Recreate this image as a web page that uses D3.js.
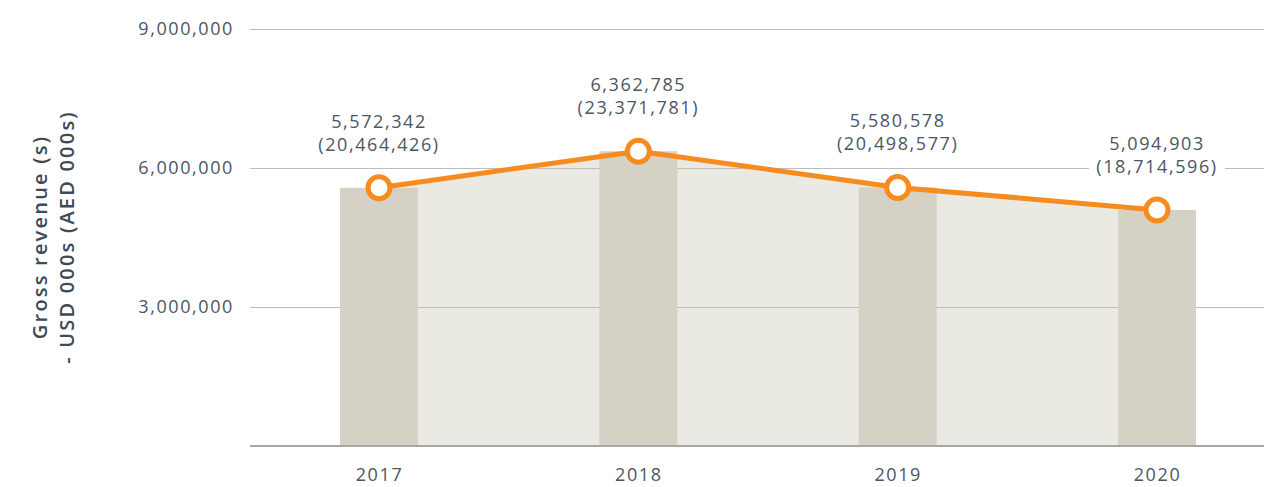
<!DOCTYPE html>
<html>
<head>
<meta charset="utf-8">
<script src="https://cdn.jsdelivr.net/npm/d3@7"></script>
<style>
  body { margin: 0; background: #fff; }
  text { font-family: "Open Sans", sans-serif; }
</style>
</head>
<body>
<div id="container"></div>
<script>
/* DATA */
const years = ["2017", "2018", "2019", "2020"]
const usdValues = [5572342, 6362785, 5580578, 5094903]
const aedValues = [20464426, 23371781, 20498577, 18714596]
const yTicks = [3000000, 6000000, 9000000]
const titleLines = ["Gross revenue (s)", "- USD 000s (AED 000s)"]

/* CONSTANTS */
const width = 1264,
  height = 487,
  margin = { top: 29, bottom: 41, left: 250, right: 0 },
  barWidth = 78,
  textColor = "#4b5663",
  labelFont = "18px",
  spacing = "1.6px"

const data = years.map((y, i) => ({ year: y, usd: usdValues[i], aed: aedValues[i] }))

/* SCALES */
const xScale = d3.scalePoint()
  .domain(years)
  .range([379, 1157])

const yScale = d3.scaleLinear()
  .domain([0, 9000000])
  .range([height - margin.bottom, margin.top])

const fmt = d3.format(",")

/* SVG */
const svg = d3.select("#container")
  .append("svg")
  .attr("width", width)
  .attr("height", height)

// area under the line
const area = d3.area()
  .x(d => xScale(d.year))
  .y0(yScale(0))
  .y1(d => yScale(d.usd))

svg.append("path")
  .datum(data)
  .attr("d", area)
  .attr("fill", "#ebeae2")

// gridlines + tick labels
const yAxis = d3.axisLeft(yScale)
  .tickValues(yTicks)
  .tickFormat(fmt)
  .tickSize(-(width - margin.left))
  .tickPadding(16)

svg.append("g")
  .attr("transform", `translate(${margin.left},0)`)
  .call(yAxis)
  .call(g => g.select(".domain").remove())
  .call(g => g.selectAll(".tick line").attr("stroke", "#bdbdbd").attr("stroke-width", 1.2))
  .call(g => g.selectAll(".tick text")
    .attr("fill", textColor)
    .style("font-size", labelFont)
    .style("letter-spacing", spacing)
    .style("font-family", "'Open Sans', sans-serif"))

// bars
svg.selectAll(".bar")
  .data(data)
  .join("rect")
  .attr("class", "bar")
  .attr("x", d => xScale(d.year) - barWidth / 2)
  .attr("y", d => yScale(d.usd))
  .attr("width", barWidth)
  .attr("height", d => yScale(0) - yScale(d.usd))
  .attr("fill", "#d5d1c5")

// baseline
svg.append("line")
  .attr("x1", margin.left)
  .attr("x2", width)
  .attr("y1", yScale(0))
  .attr("y2", yScale(0))
  .attr("stroke", "#a8a8a8")
  .attr("stroke-width", 2)

// x axis labels
const xAxis = d3.axisBottom(xScale).tickSize(0).tickPadding(22)
svg.append("g")
  .attr("transform", `translate(0,${yScale(0)})`)
  .call(xAxis)
  .call(g => g.select(".domain").remove())
  .call(g => g.selectAll(".tick text")
    .attr("fill", textColor)
    .style("font-size", labelFont)
    .style("letter-spacing", spacing)
    .style("font-family", "'Open Sans', sans-serif"))

// line
const line = d3.line()
  .x(d => xScale(d.year))
  .y(d => yScale(d.usd))

svg.append("path")
  .datum(data)
  .attr("d", line)
  .attr("fill", "none")
  .attr("stroke", "#f68b1f")
  .attr("stroke-width", 5)

// points
svg.selectAll(".pt")
  .data(data)
  .join("circle")
  .attr("class", "pt")
  .attr("cx", d => xScale(d.year))
  .attr("cy", d => yScale(d.usd))
  .attr("r", 11)
  .attr("fill", "#fff")
  .attr("stroke", "#f68b1f")
  .attr("stroke-width", 5)

// value labels with white background
const labels = svg.selectAll(".lbl")
  .data(data)
  .join("g")
  .attr("class", "lbl")
  .attr("transform", d => `translate(${xScale(d.year)},${yScale(d.usd)})`)

labels.append("rect")
  .attr("x", -68)
  .attr("y", -78)
  .attr("width", 136)
  .attr("height", 52)
  .attr("fill", "#fff")

labels.append("text")
  .attr("text-anchor", "middle")
  .attr("y", -60)
  .attr("fill", textColor)
  .style("font-size", labelFont)
  .style("letter-spacing", spacing)
  .text(d => fmt(d.usd))

labels.append("text")
  .attr("text-anchor", "middle")
  .attr("y", -37)
  .attr("fill", textColor)
  .style("font-size", labelFont)
  .style("letter-spacing", spacing)
  .text(d => "(" + fmt(d.aed) + ")")

// y axis title
svg.append("text")
  .attr("transform", "translate(47,237) rotate(-90)")
  .attr("text-anchor", "middle")
  .attr("fill", "#3e4a58")
  .style("font-size", "20px")
  .style("font-weight", "600")
  .style("letter-spacing", "2.2px")
  .selectAll("tspan")
  .data(titleLines)
  .join("tspan")
  .attr("x", 0)
  .attr("dy", (d, i) => i === 0 ? 0 : 27)
  .text(d => d)
</script>
</body>
</html>
